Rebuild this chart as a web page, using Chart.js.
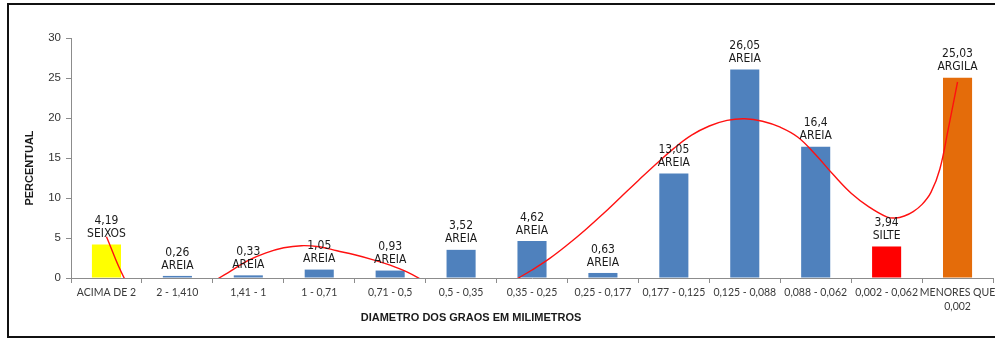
<!DOCTYPE html>
<html>
<head>
<meta charset="utf-8">
<script src="https://cdn.jsdelivr.net/npm/chart.js@4/dist/chart.umd.min.js"></script>
<style>
  html, body { margin: 0; padding: 0; background: #ffffff; }
  #c { display: block; }
</style>
</head>
<body>
<canvas id="c" width="995" height="338"></canvas>
<script>
// ---- data ----
const categories = ["ACIMA DE 2", "2 - 1,410", "1,41 - 1", "1 - 0,71", "0,71 - 0,5", "0,5 - 0,35",
  "0,35 - 0,25", "0,25 - 0,177", "0,177 - 0,125", "0,125 - 0,088", "0,088 - 0,062",
  "0,002 - 0,062", ["MENORES QUE", "0,002"]];
const percentValues = [4.19, 0.26, 0.33, 1.05, 0.93, 3.52, 4.62, 0.63, 13.05, 26.05, 16.4, 3.94, 25.03];
const grainClasses = ["SEIXOS", "AREIA", "AREIA", "AREIA", "AREIA", "AREIA", "AREIA", "AREIA",
  "AREIA", "AREIA", "AREIA", "SILTE", "ARGILA"];
const barColors = ["#FFFF00", "#4F81BD", "#4F81BD", "#4F81BD", "#4F81BD", "#4F81BD", "#4F81BD",
  "#4F81BD", "#4F81BD", "#4F81BD", "#4F81BD", "#FF0000", "#E46C0A"];
const yTicks = [0, 5, 10, 15, 20, 25, 30];
// trend line (red curve), position in category units
const trendX = [0, 0.25, 0.5, 0.75, 1, 1.25, 1.5, 1.75, 2, 2.25, 2.5, 2.75, 3, 3.25, 3.5, 3.75, 4,
  4.25, 4.5, 4.75, 5, 5.25, 5.5, 5.75, 6, 6.25, 6.5, 6.75, 7, 7.25, 7.5, 7.75, 8, 8.25, 8.5, 8.75,
  9, 9.25, 9.5, 9.75, 10, 10.25, 10.5, 10.75, 11, 11.125, 11.25, 11.375, 11.5, 11.625, 11.75,
  11.875, 12];
const trendY = [5.16, 0, -3.3, -4.6, -4.4, -2.6, -0.55, 0.85, 2.2, 3.14, 3.78, 4.04, 3.9, 3.4, 2.9,
  2.3, 1.6, 0.7, -0.5, -1.7, -2.5, -2.6, -1.7, -0.3, 1.0, 2.45, 4.15, 6.0, 8.0, 10.1, 12.2, 14.25,
  16.2, 17.85, 19.0, 19.7, 19.9, 19.6, 18.85, 17.6, 15.4, 12.9, 10.6, 8.9, 7.65, 7.5, 7.75, 8.3,
  9.2, 10.7, 13.6, 18.9, 24.5];
const yTitle = "PERCENTUAL";
const xTitle = "DIAMETRO DOS GRAOS EM MILIMETROS";

const barPoints = percentValues.map((v, i) => ({ x: i, y: v }));
const trendPoints = trendX.map((x, i) => ({ x: x, y: trendY[i] }));
const fmt = v => String(v).replace('.', ',');

const framePlugin = {
  id: 'frame',
  beforeDraw(chart) {
    const ctx = chart.ctx;
    ctx.save();
    ctx.fillStyle = '#ffffff';
    ctx.fillRect(0, 0, chart.width, chart.height);
    ctx.restore();
  },
  afterDraw(chart) {
    const ctx = chart.ctx;
    ctx.save();
    ctx.fillStyle = '#111111';
    ctx.fillRect(7, 3, 988, 2);
    ctx.fillRect(7, 3, 2, 335);
    ctx.fillRect(7, 336, 988, 2);
    // axis titles
    ctx.fillStyle = '#1a1a1a';
    ctx.font = 'bold 11px "Liberation Sans", Arial, sans-serif';
    ctx.textAlign = 'center';
    ctx.textBaseline = 'middle';
    ctx.fillText(xTitle, 471, 318);
    ctx.translate(30, 168);
    ctx.rotate(-Math.PI / 2);
    ctx.fillText(yTitle, 0, 0);
    ctx.restore();
  }
};

const labelPlugin = {
  id: 'barLabels',
  afterDatasetsDraw(chart) {
    const ctx = chart.ctx;
    const meta = chart.getDatasetMeta(0);
    ctx.save();
    ctx.fillStyle = '#1a1a1a';
    ctx.font = '12px "DejaVu Sans Condensed", "DejaVu Sans", sans-serif';
    ctx.textAlign = 'center';
    ctx.textBaseline = 'middle';
    meta.data.forEach((bar, i) => {
      ctx.fillText(fmt(percentValues[i]), bar.x, bar.y - 23.5);
      ctx.fillText(grainClasses[i], bar.x, bar.y - 10.5);
    });
    ctx.restore();
  }
};

const axisColor = '#8c8c8c';

new Chart(document.getElementById('c'), {
  type: 'bar',
  data: {
    labels: categories,
    datasets: [
      {
        type: 'bar',
        data: barPoints,
        backgroundColor: barColors,
        borderWidth: 0,
        barPercentage: 0.41,
        categoryPercentage: 1.0,
        xAxisID: 'xb',
        yAxisID: 'y',
        order: 2
      },
      {
        type: 'line',
        data: trendPoints,
        borderColor: '#FF1010',
        borderWidth: 1.4,
        pointRadius: 0,
        tension: 0.4,
        fill: false,
        xAxisID: 'xb',
        yAxisID: 'y',
        order: 1
      }
    ]
  },
  options: {
    responsive: false,
    devicePixelRatio: 1,
    animation: false,
    layout: { padding: { top: 38, right: 2, bottom: 0, left: 0 } },
    plugins: {
      legend: { display: false },
      tooltip: { enabled: false },
      title: { display: false }
    },
    scales: {
      x: {
        type: 'category',
        position: 'bottom',
        min: 0,
        max: 12,
        offset: true,
        afterFit: s => { s.height = 60; s.paddingLeft = 0; s.paddingRight = 0; },
        grid: { display: true, drawOnChartArea: false, drawTicks: true, tickLength: 5, color: axisColor, offset: true },
        border: { display: true, color: axisColor, width: 1 },
        ticks: {
          autoSkip: false, maxRotation: 0, minRotation: 0, padding: 3,
          color: '#3a3a3a',
          font: { family: 'Lato, "Liberation Sans", sans-serif', size: 10.5, lineHeight: 1.3 }
        }
      },
      xb: {
        type: 'linear',
        axis: 'x',
        position: 'bottom',
        display: false,
        offset: false,
        min: -0.5,
        max: 12.5,
        afterBuildTicks: s => { s.ticks = percentValues.map((v, i) => ({ value: i })); }
      },
      y: {
        type: 'linear',
        position: 'left',
        min: 0,
        max: 30,
        afterFit: s => { s.width = 71; },
        afterBuildTicks: s => { s.ticks = yTicks.map(v => ({ value: v })); },
        grid: { display: true, drawOnChartArea: false, drawTicks: true, tickLength: 5, color: axisColor },
        border: { display: true, color: axisColor, width: 1 },
        ticks: {
          padding: 5,
          color: '#333333',
          font: { family: '"Liberation Sans", Arial, sans-serif', size: 11.5 }
        }
      }
    }
  },
  plugins: [framePlugin, labelPlugin]
});
</script>
</body>
</html>
